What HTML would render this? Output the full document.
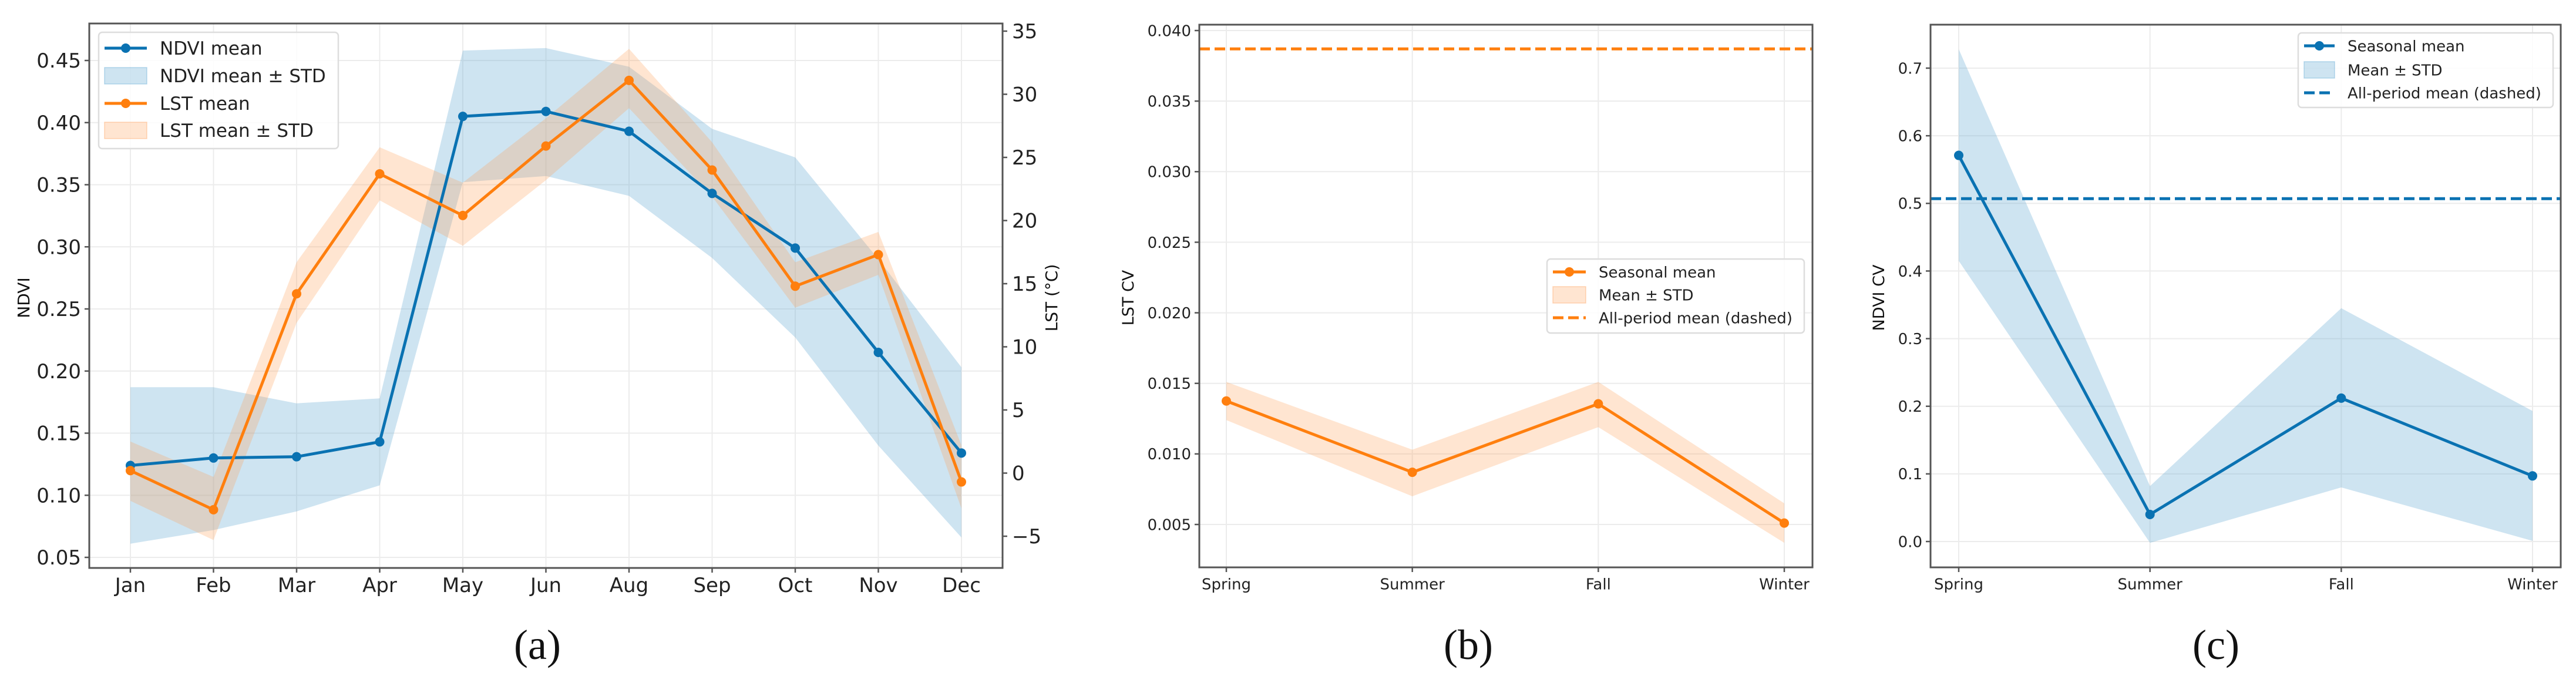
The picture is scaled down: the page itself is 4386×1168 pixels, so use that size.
<!DOCTYPE html>
<html><head><meta charset="utf-8"><style>
html,body{margin:0;padding:0;background:#fff;}
svg{display:block;font-family:"DejaVu Sans","Liberation Sans",sans-serif;}
</style></head><body>
<svg id="fig" width="4386" height="1168" viewBox="0 0 4386 1168" xmlns="http://www.w3.org/2000/svg"></svg>
<script>
// ---- Panel (a) data ----
const months = ["Jan","Feb","Mar","Apr","May","Jun","Aug","Sep","Oct","Nov","Dec"];
const ndviMean = [0.124,0.130,0.131,0.143,0.405,0.409,0.393,0.343,0.299,0.215,0.134];
const ndviUpper = [0.187,0.187,0.174,0.178,0.458,0.460,0.445,0.395,0.372,0.290,0.203];
const ndviLower = [0.061,0.072,0.087,0.108,0.352,0.357,0.341,0.291,0.227,0.140,0.066];
const lstMean = [0.2,-2.9,14.2,23.7,20.4,25.9,31.1,24.0,14.8,17.3,-0.7];
const lstUpper = [2.5,-0.3,16.7,25.8,23.0,28.1,33.6,26.2,16.7,19.1,2.2];
const lstLower = [-2.2,-5.3,11.9,21.6,18.0,23.2,28.9,21.9,13.1,15.7,-2.8];
const ndviTicks = [0.05,0.10,0.15,0.20,0.25,0.30,0.35,0.40,0.45];
const lstTicks = [-5,0,5,10,15,20,25,30,35];
// ---- Panel (b) data ----
const seasons = ["Spring","Summer","Fall","Winter"];
const lstCvMean = [0.01375,0.0087,0.01355,0.0051];
const lstCvUpper = [0.0151,0.0103,0.0151,0.0065];
const lstCvLower = [0.0124,0.0070,0.0119,0.0037];
const lstCvAll = [0.0387];
const lstCvTicks = [0.005,0.010,0.015,0.020,0.025,0.030,0.035,0.040];
// ---- Panel (c) data ----
const ndviCvMean = [0.571,0.040,0.212,0.097];
const ndviCvUpper = [0.728,0.082,0.345,0.193];
const ndviCvLower = [0.415,-0.002,0.080,0.001];
const ndviCvAll = [0.507];
const ndviCvTicks = [0.0,0.1,0.2,0.3,0.4,0.5,0.6,0.7];

const NS="http://www.w3.org/2000/svg";
const svg=document.getElementById('fig');
const BLUE="#0a72b2", ORANGE="#ff7f0e";
const BLUEF="rgba(107,174,214,0.33)", ORANGEF="rgba(255,160,90,0.28)";
function mk(tag,attrs,parent){const e=document.createElementNS(NS,tag);for(const k in attrs)e.setAttribute(k,attrs[k]);(parent||svg).appendChild(e);return e;}
function lin(d0,d1,r0,r1){return v=>r0+(v-d0)*(r1-r0)/(d1-d0);}
function pts(xs,ys){return xs.map((x,i)=>x+","+ys[i]).join(" ");}

function frame(g,L,R,T,B){
  const r=mk('rect',{x:L,y:T,width:R-L,height:B-T,fill:'none',stroke:'#555',"stroke-width":3},g);
  
  
}
function gridX(g,xs,T,B){xs.forEach(x=>{const l=mk('line',{x1:x,x2:x,y1:T,y2:B,stroke:'#ececec',"stroke-width":2},g);});}
function gridY(g,ys,L,R){ys.forEach(y=>{const l=mk('line',{x1:L,x2:R,y1:y,y2:y,stroke:'#ececec',"stroke-width":2},g);});}
function yTicks(g,ticks,fy,x,side,fs,fmt){
  ticks.forEach(t=>{const y=fy(t);
    mk('line',{x1:x,x2:x+(side<0?-8:8),y1:y,y2:y,stroke:'#555',"stroke-width":2.5},g);
    const tx=mk('text',{x:x+(side<0?-14:16),y:y+fs*0.36,"font-size":fs,fill:'#222',"text-anchor":side<0?'end':'start'},g);
    tx.textContent=fmt(t);
    
    
  });
}
function xTicks(g,labels,fx,B,fs,ly){
  labels.forEach((s,i)=>{const x=fx(i);
    mk('line',{x1:x,x2:x,y1:B,y2:B+8,stroke:'#555',"stroke-width":2.5},g);
    const tx=mk('text',{x:x,y:ly+fs*0.36,"font-size":fs,fill:'#222',"text-anchor":'middle'},g);
    tx.textContent=s;
    
    
  });
}
function band(g,xs,up,lo,fill,name){
  const p=mk('polygon',{points:pts(xs,up)+" "+pts(xs.slice().reverse(),lo.slice().reverse()),fill:fill,stroke:'none'},g);
  
  
}
function line(g,xs,ys,col,name,r){
  const pl=mk('polyline',{points:pts(xs,ys),fill:'none',stroke:col,"stroke-width":5,"stroke-linejoin":'round'},g);
  
  
  xs.forEach((x,i)=>{const c=mk('circle',{cx:x,cy:ys[i],r:r,fill:col},g);});
}
function ylabel(g,x,y,text,fs){
  const t=mk('text',{x:x,y:y,"font-size":fs,fill:'#111',"text-anchor":'middle',transform:`rotate(-90 ${x} ${y})`},g);
  t.textContent=text;
  
  
}
function caption(x,text){
  const t=mk('text',{x:x,y:1122,"font-size":72,fill:'#111',"text-anchor":'middle',"font-family":'"Liberation Serif",serif'});
  t.textContent=text;
  
  
}
function legend(g,x0,y0,w,h,entries,fs,tx){
  const box=mk('rect',{x:x0,y:y0,width:w,height:h,rx:6,fill:'rgba(255,255,255,0.85)',stroke:'#ddd',"stroke-width":2.5},g);
  
  
  entries.forEach(e=>{
    const sx=x0+10, ex=tx-22;
    if(e.type==='line'){mk('line',{x1:sx,x2:ex,y1:e.y,y2:e.y,stroke:e.col,"stroke-width":5},g);mk('circle',{cx:(sx+ex)/2,cy:e.y,r:8,fill:e.col},g);}
    else if(e.type==='fill'){mk('rect',{x:sx,y:e.y-14,width:ex-sx,height:28,fill:e.col,stroke:e.col2,"stroke-width":1.5},g);}
    else {mk('line',{x1:sx,x2:ex,y1:e.y,y2:e.y,stroke:e.col,"stroke-width":5,"stroke-dasharray":"18 8"},g);}
    const t=mk('text',{x:tx,y:e.y+fs*0.36,"font-size":fs,fill:'#222'},g);
    t.textContent=e.label;
    
    
  });
}

// ===== Panel A =====
(function(){
  const g=mk('g',{});  
  const L=152,R=1707,T=40,B=967;
  const fx=lin(0,months.length-1,222,1637);
  const fy=lin(0.05,0.45,949,103);
  const fy2=lin(0,35,805.5,53);
  const xs=months.map((m,i)=>fx(i));
  gridX(g,xs,T,B); gridY(g,ndviTicks.map(fy),L,R);
  band(g,xs,ndviUpper.map(fy),ndviLower.map(fy),BLUEF,'ndvi-std-band');
  band(g,xs,lstUpper.map(fy2),lstLower.map(fy2),ORANGEF,'lst-std-band');
  line(g,xs,ndviMean.map(fy),BLUE,'ndvi-mean-line',8);
  line(g,xs,lstMean.map(fy2),ORANGE,'lst-mean-line',8);
  frame(g,L,R,T,B);
  yTicks(g,ndviTicks,fy,L,-1,34,v=>v.toFixed(2));
  yTicks(g,lstTicks,fy2,R,1,34,v=>v<0?"\u2212"+Math.abs(v):String(v));
  xTicks(g,months,fx,B,34,996);
  ylabel(g,50,507,'NDVI',28);
  ylabel(g,1800,507,'LST (°C)',28);
  legend(g,168,55,408,198,[
    {type:'line',col:BLUE,y:82,label:'NDVI mean'},
    {type:'fill',col:BLUEF,col2:'rgba(107,174,214,0.45)',y:129,label:'NDVI mean ± STD'},
    {type:'line',col:ORANGE,y:176,label:'LST mean'},
    {type:'fill',col:ORANGEF,col2:'rgba(255,160,90,0.4)',y:222,label:'LST mean ± STD'}],31,272);
})();
caption(915,'(a)');

// ===== Panel B =====
(function(){
  const g=mk('g',{});  
  const L=2042,R=3086,T=42,B=966;
  const fx=lin(0,seasons.length-1,2088,3038);
  const fy=lin(0.005,0.040,893,52);
  const xs=seasons.map((s,i)=>fx(i));
  gridX(g,xs,T,B); gridY(g,lstCvTicks.map(fy),L,R);
  band(g,xs,lstCvUpper.map(fy),lstCvLower.map(fy),ORANGEF,'lst-cv-std-band');
  line(g,xs,lstCvMean.map(fy),ORANGE,'lst-cv-mean-line',8);
  const d=mk('line',{x1:L,x2:R,y1:fy(lstCvAll[0]),y2:fy(lstCvAll[0]),stroke:ORANGE,"stroke-width":5,"stroke-dasharray":"18 8"},g);
  
  
  frame(g,L,R,T,B);
  yTicks(g,lstCvTicks,fy,L,-1,26,v=>v.toFixed(3));
  xTicks(g,seasons,fx,B,26,994);
  ylabel(g,1930,507,'LST CV',27);
  legend(g,2634,441,438,126,[
    {type:'line',col:ORANGE,y:463,label:'Seasonal mean'},
    {type:'fill',col:ORANGEF,col2:'rgba(255,160,90,0.4)',y:502,label:'Mean ± STD'},
    {type:'dash',col:ORANGE,y:541,label:'All-period mean (dashed)'}],26,2722);
})();
caption(2500,'(b)');

// ===== Panel C =====
(function(){
  const g=mk('g',{});  
  const L=3287,R=4360,T=42,B=966;
  const fx=lin(0,seasons.length-1,3335,4312);
  const fy=lin(0,0.7,922,116);
  const xs=seasons.map((s,i)=>fx(i));
  gridX(g,xs,T,B); gridY(g,ndviCvTicks.map(fy),L,R);
  band(g,xs,ndviCvUpper.map(fy),ndviCvLower.map(fy),BLUEF,'ndvi-cv-std-band');
  line(g,xs,ndviCvMean.map(fy),BLUE,'ndvi-cv-mean-line',8);
  const d=mk('line',{x1:L,x2:R,y1:fy(ndviCvAll[0]),y2:fy(ndviCvAll[0]),stroke:BLUE,"stroke-width":5,"stroke-dasharray":"18 8"},g);
  
  
  frame(g,L,R,T,B);
  yTicks(g,ndviCvTicks,fy,L,-1,26,v=>v.toFixed(1));
  xTicks(g,seasons,fx,B,26,994);
  ylabel(g,3208,507,'NDVI CV',27);
  legend(g,3913,56,434,127,[
    {type:'line',col:BLUE,y:78,label:'Seasonal mean'},
    {type:'fill',col:BLUEF,col2:'rgba(107,174,214,0.45)',y:119,label:'Mean ± STD'},
    {type:'dash',col:BLUE,y:158,label:'All-period mean (dashed)'}],26,3997);
})();
caption(3773,'(c)');
</script>
</body></html>
